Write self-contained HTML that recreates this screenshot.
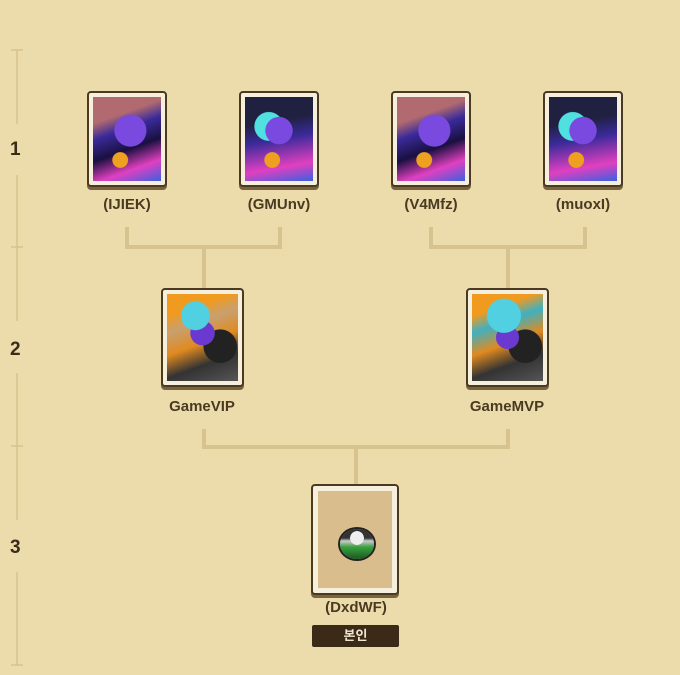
<!DOCTYPE html>
<html><head><meta charset="utf-8"><style>
html,body{margin:0;padding:0;background:#ecdcab;}
body{width:680px;height:675px;position:relative;overflow:hidden;font-family:"Liberation Sans","Noto Sans CJK KR",sans-serif;}
.card{position:absolute;box-sizing:border-box;border:2px solid #4a3a22;border-radius:4px;background:#f6efdc;box-shadow:0 3px 0 #7a6440;}
.img{position:absolute;left:4px;top:4px;right:4px;bottom:4px;overflow:hidden;background:#2a1a5a;}
.lbl{position:absolute;width:160px;text-align:center;font-weight:bold;font-size:15px;color:#4a3a22;}
.num{position:absolute;left:10px;font-weight:bold;font-size:19px;color:#3a2d18;}
</style></head><body>
<svg width="680" height="675" style="position:absolute;left:0;top:0">
<g stroke="#d6c38e" stroke-width="1.5" fill="none">
<line x1="17" y1="50" x2="17" y2="124"/><line x1="17" y1="175" x2="17" y2="321"/>
<line x1="17" y1="373" x2="17" y2="520"/><line x1="17" y1="572" x2="17" y2="665"/>
<line x1="11" y1="50" x2="23" y2="50"/><line x1="11" y1="247" x2="23" y2="247"/>
<line x1="11" y1="446" x2="23" y2="446"/><line x1="11" y1="665" x2="23" y2="665"/>
</g>
<g stroke="#d6c38e" stroke-width="4" fill="none">
<path d="M127 227V247H280V227M204 247V288"/>
<path d="M431 227V247H585V227M508 247V288"/>
<path d="M204 429V447H508V429M356 447V484"/>
</g>
</svg>
<div class="num" style="top:139px">1</div>
<div class="num" style="top:339px">2</div>
<div class="num" style="top:537px">3</div>

<div class="card" style="left:87px;top:91px;width:80px;height:96px"><div class="img" style="background:radial-gradient(circle at 55% 40%,#7a4ae0 0 25%,transparent 26%),radial-gradient(circle at 40% 75%,#f0a020 0 10%,transparent 11%),linear-gradient(160deg,#b06a70 0 25%,#3a2a9a 40%,#1a1040 60%,#e040c0 80%,#3a60e0)"></div></div>
<div class="card" style="left:239px;top:91px;width:80px;height:96px"><div class="img" style="background:radial-gradient(circle at 50% 40%,#7a4ae0 0 22%,transparent 23%),radial-gradient(circle at 35% 35%,#50e0e0 0 20%,transparent 21%),radial-gradient(circle at 40% 75%,#f0a020 0 10%,transparent 11%),linear-gradient(170deg,#202040 0 30%,#3a2a9a 50%,#e040c0 80%,#3a60e0)"></div></div>
<div class="card" style="left:391px;top:91px;width:80px;height:96px"><div class="img" style="background:radial-gradient(circle at 55% 40%,#7a4ae0 0 25%,transparent 26%),radial-gradient(circle at 40% 75%,#f0a020 0 10%,transparent 11%),linear-gradient(160deg,#b06a70 0 25%,#3a2a9a 40%,#1a1040 60%,#e040c0 80%,#3a60e0)"></div></div>
<div class="card" style="left:543px;top:91px;width:80px;height:96px"><div class="img" style="background:radial-gradient(circle at 50% 40%,#7a4ae0 0 22%,transparent 23%),radial-gradient(circle at 35% 35%,#50e0e0 0 20%,transparent 21%),radial-gradient(circle at 40% 75%,#f0a020 0 10%,transparent 11%),linear-gradient(170deg,#202040 0 30%,#3a2a9a 50%,#e040c0 80%,#3a60e0)"></div></div>
<div class="lbl" style="left:47px;top:196px">(IJIEK)</div>
<div class="lbl" style="left:199px;top:196px">(GMUnv)</div>
<div class="lbl" style="left:351px;top:196px">(V4Mfz)</div>
<div class="lbl" style="left:503px;top:196px">(muoxI)</div>

<div class="card" style="left:161px;top:288px;width:83px;height:99px"><div class="img" style="background:radial-gradient(circle at 40% 25%,#50d0e0 0 18%,transparent 19%),radial-gradient(circle at 50% 45%,#6a3ad0 0 20%,transparent 21%),radial-gradient(circle at 75% 60%,#222 0 22%,transparent 23%),linear-gradient(160deg,#f09a20 0 20%,#c8a070 35%,#e08a20 55%,#333 75%,#555)"></div></div>
<div class="card" style="left:466px;top:288px;width:83px;height:99px"><div class="img" style="background:radial-gradient(circle at 45% 25%,#50d0e0 0 22%,transparent 23%),radial-gradient(circle at 50% 50%,#6a3ad0 0 20%,transparent 21%),radial-gradient(circle at 75% 60%,#222 0 22%,transparent 23%),linear-gradient(160deg,#f09a20 0 20%,#40b0c0 35%,#e08a20 55%,#333 75%,#555)"></div></div>
<div class="lbl" style="left:122px;top:398px">GameVIP</div>
<div class="lbl" style="left:427px;top:398px">GameMVP</div>

<div class="card" style="left:311px;top:484px;width:88px;height:111px"><div class="img" style="background:#d9bd8d;left:5px;top:5px;right:5px;bottom:5px"><div style="position:absolute;left:22px;top:38px;width:34px;height:30px;border-radius:50%;background:radial-gradient(circle at 50% 30%,#eee 0 25%,transparent 26%),linear-gradient(#333 0 30%,#ccc 40%,#3aa040 60%,#1a5a20);box-shadow:0 0 0 2px #222"></div></div></div>
<div class="lbl" style="left:276px;top:599px">(DxdWF)</div>
<div style="position:absolute;left:312px;top:625px;width:87px;height:22px;background:#3b2a18;border-radius:2px;color:#f0e6d0;font-size:13px;font-weight:bold;text-align:center;line-height:22px">본인</div>
</body></html>
